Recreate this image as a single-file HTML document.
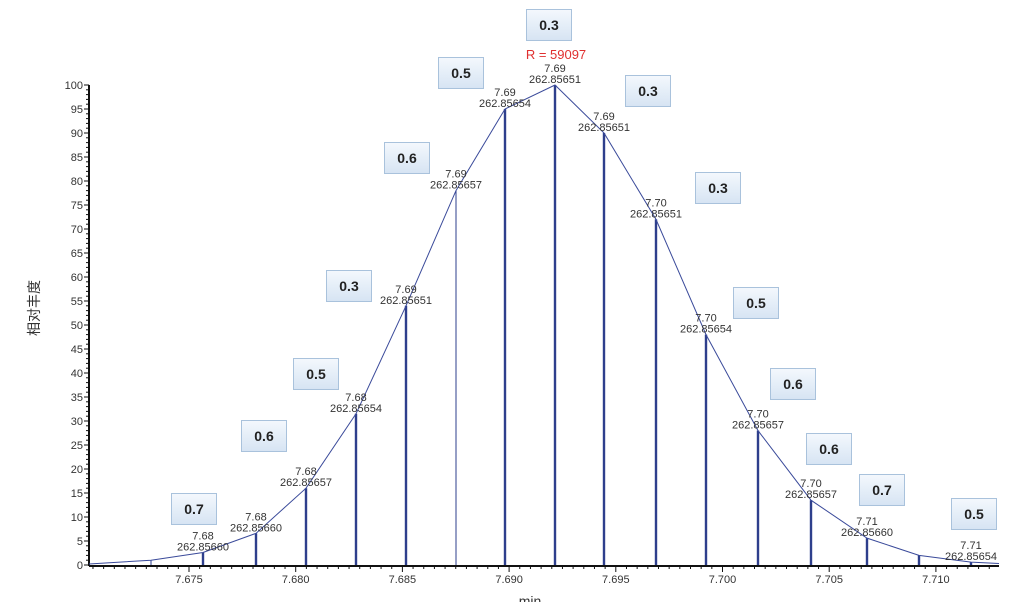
<!DOCTYPE html>
<html><head><meta charset="utf-8"><style>
html,body{margin:0;padding:0;background:#fff;}
svg{display:block;font-family:"Liberation Sans","Noto Sans CJK SC",sans-serif;}
.b{fill:url(#g);stroke:#a9c2dc;stroke-width:1;}
.bt{font-size:14px;font-weight:bold;fill:#222;text-anchor:middle;}
.pl{font-size:11px;fill:#333;text-anchor:middle;}
.tl{font-size:11px;fill:#333;}
</style></head><body>
<svg width="1018" height="602" viewBox="0 0 1018 602" xmlns="http://www.w3.org/2000/svg">
<defs><linearGradient id="g" x1="0" y1="0" x2="0" y2="1"><stop offset="0" stop-color="#f4f8fd"/><stop offset="1" stop-color="#d6e4f3"/></linearGradient></defs>
<g id="ax"></g>
<text x="39" y="308" transform="rotate(-90 39 308)" font-size="14" text-anchor="middle" fill="#333">相对丰度</text>
<text x="530" y="606" font-size="14" fill="#333" text-anchor="middle">min</text>
<text x="556" y="59" font-size="13" fill="#e03030" text-anchor="middle">R = 59097</text>
<g id="d"></g>
</svg>
<script>
var ns="http://www.w3.org/2000/svg";
function el(p,t,a,txt){var e=document.createElementNS(ns,t);for(var k in a)e.setAttribute(k,a[k]);if(txt!=null)e.textContent=txt;p.appendChild(e);return e;}
var ax=document.getElementById('ax'),d=document.getElementById('d');
var X0=89,Y0=565,S=4.8;
el(ax,'line',{x1:X0,y1:85,x2:X0,y2:Y0+1,stroke:'#111','stroke-width':2});
el(ax,'line',{x1:X0,y1:Y0+1,x2:999,y2:Y0+1,stroke:'#111','stroke-width':2});
for(var v=0;v<=100;v++){var y=Y0-v*S;el(ax,'line',{x1:X0-(v%5?3:5),y1:y,x2:X0,y2:y,stroke:'#111','stroke-width':1});
 if(v%5==0)el(ax,'text',{x:X0-6,y:y+4,'text-anchor':'end',class:'tl'},String(v));}
for(var i=-18;i<=85;i++){var x=189+i*10.67;if(x<X0||x>999)continue;var maj=(i%10==0);
 el(ax,'line',{x1:x,y1:Y0+1,x2:x,y2:Y0+(maj?7:4),stroke:'#111','stroke-width':1});
 if(maj)el(ax,'text',{x:x,y:Y0+18,'text-anchor':'middle',class:'tl'},(7.675+i/10*0.005).toFixed(3));}
var pts=[[89,0.2],[151,1],[203,2.6],[256,6.6],[306,16],[356,31.5],[406,54],[456,78],[505,95],[555,100],[604,90],[656,72],[706,48],[758,28],[811,13.5],[867,5.6],[919,2],[971,0.6],[999,0.3]];
var pl=pts.map(function(p){return p[0]+','+(Y0-p[1]*S)}).join(' ');
for(var i=1;i<pts.length-1;i++){var p=pts[i];el(d,'line',{x1:p[0],y1:Y0,x2:p[0],y2:Y0-p[1]*S,stroke:'#2e3f8c','stroke-width':(p[0]==151||p[0]==456?1:2.4)});}
el(d,'polyline',{points:pl,fill:'none',stroke:'#3a4a9a','stroke-width':1});
var labs=[[203,'7.68','262.85660'],[256,'7.68','262.85660'],[306,'7.68','262.85657'],[356,'7.68','262.85654'],[406,'7.69','262.85651'],[456,'7.69','262.85657'],[505,'7.69','262.85654'],[555,'7.69','262.85651'],[604,'7.69','262.85651'],[656,'7.70','262.85651'],[706,'7.70','262.85654'],[758,'7.70','262.85657'],[811,'7.70','262.85657'],[867,'7.71','262.85660'],[971,'7.71','262.85654']];
labs.forEach(function(l){var p=pts.filter(function(q){return q[0]==l[0]})[0];var y=Y0-p[1]*S;
 el(d,'text',{x:l[0],y:y-13,class:'pl'},l[1]);el(d,'text',{x:l[0],y:y-2,class:'pl'},l[2]);});
var boxes=[[171,493,'0.7'],[241,420,'0.6'],[293,358,'0.5'],[326,270,'0.3'],[384,142,'0.6'],[438,57,'0.5'],[526,9,'0.3'],[625,75,'0.3'],[695,172,'0.3'],[733,287,'0.5'],[770,368,'0.6'],[806,433,'0.6'],[859,474,'0.7'],[951,498,'0.5']];
boxes.forEach(function(b){el(d,'rect',{x:b[0]+0.5,y:b[1]+0.5,width:45,height:31,class:'b'});el(d,'text',{x:b[0]+23,y:b[1]+21,class:'bt'},b[2]);});
</script>
</body></html>
